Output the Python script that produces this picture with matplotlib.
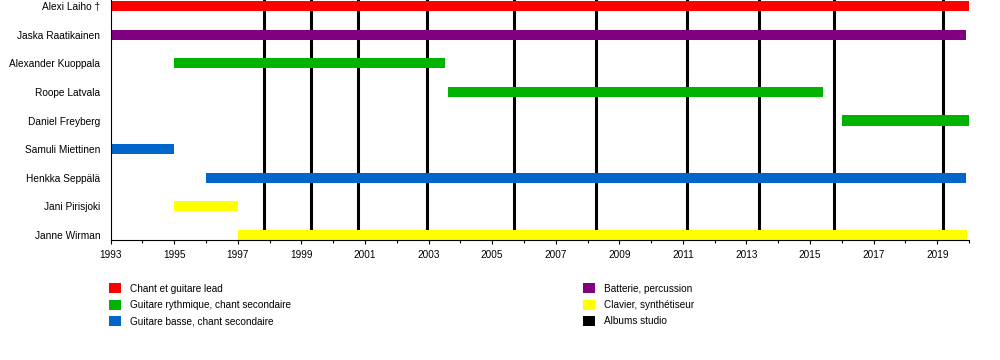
import matplotlib
matplotlib.use('Agg')
import matplotlib.pyplot as plt
from matplotlib.patches import Patch
from matplotlib.ticker import FixedLocator, MultipleLocator

plt.rcParams['font.family'] = ['Liberation Sans', 'DejaVu Sans']

# members, top to bottom
names = ['Alexi Laiho †', 'Jaska Raatikainen', 'Alexander Kuoppala', 'Roope Latvala',
         'Daniel Freyberg', 'Samuli Miettinen', 'Henkka Seppälä', 'Jani Pirisjoki', 'Janne Wirman']
starts = [1993.0, 1993.0, 1995.0, 2003.6, 2016.0, 1993.0, 1996.0, 1995.0, 1997.0]
ends = [2020.0, 2019.92, 2003.52, 2015.4, 2020.0, 1995.0, 2019.92, 1997.0, 2019.95]
roles = ['lead', 'drums', 'rhythm', 'rhythm', 'rhythm', 'bass', 'bass', 'keys', 'keys']

# studio albums (release dates as decimal years)
albums = [1997.82, 1999.29, 2000.79, 2002.96, 2005.70, 2008.26, 2011.12, 2013.40, 2015.75, 2019.19]
year_ticks = list(range(1993, 2020, 2))

role_colors = {'lead': '#ff0000', 'drums': '#800080', 'rhythm': '#00b300',
               'bass': '#0066cc', 'keys': '#ffff00'}
legend_left = [('Chant et guitare lead', '#ff0000'),
               ('Guitare rythmique, chant secondaire', '#00b300'),
               ('Guitare basse, chant secondaire', '#0066cc')]
legend_right = [('Batterie, percussion', '#800080'),
                ('Clavier, synthétiseur', '#ffff00'),
                ('Albums studio', '#000000')]

fig = plt.figure(figsize=(10, 3.6), dpi=100)
ax = fig.add_axes([0.1107, 0.3333, 0.9690 - 0.1107, 0.6667])

for yr in albums:
    ax.axvline(yr, color='black', lw=2.2, zorder=1)

for i in range(len(names)):
    ax.barh(i, ends[i] - starts[i], left=starts[i], height=0.35,
            color=role_colors[roles[i]], zorder=2, clip_on=False)

ax.set_xlim(1993, 2020)
ax.set_ylim(8.175, -0.21)
ax.set_yticks(range(len(names)))
ax.set_yticklabels(names, fontsize=7.3)
ax.tick_params(axis='y', length=0, pad=7.5)
ax.xaxis.set_major_locator(FixedLocator(year_ticks))
ax.xaxis.set_minor_locator(MultipleLocator(1))
ax.tick_params(axis='x', which='major', length=3, width=0.8, labelsize=7.2, pad=4.5, direction='out')
ax.tick_params(axis='x', which='minor', length=2.2, width=0.8, direction='out')
ax.spines['top'].set_visible(False)
ax.spines['right'].set_visible(False)
ax.spines['left'].set_linewidth(0.8)
ax.spines['bottom'].set_linewidth(0.8)

def add_legend(items, x):
    handles = [Patch(facecolor=c, edgecolor='none') for _, c in items]
    labels = [t for t, _ in items]
    leg = fig.legend(handles, labels, loc='upper left', bbox_to_anchor=(x, 1 - 283 / 360),
                     frameon=False, fontsize=7.2, handlelength=1.2, handleheight=1.2,
                     handletextpad=0.9, labelspacing=0.6, borderpad=0, borderaxespad=0)
    return leg

add_legend(legend_left, 0.109)
add_legend(legend_right, 0.583)

fig.savefig('out.png', dpi=100)
